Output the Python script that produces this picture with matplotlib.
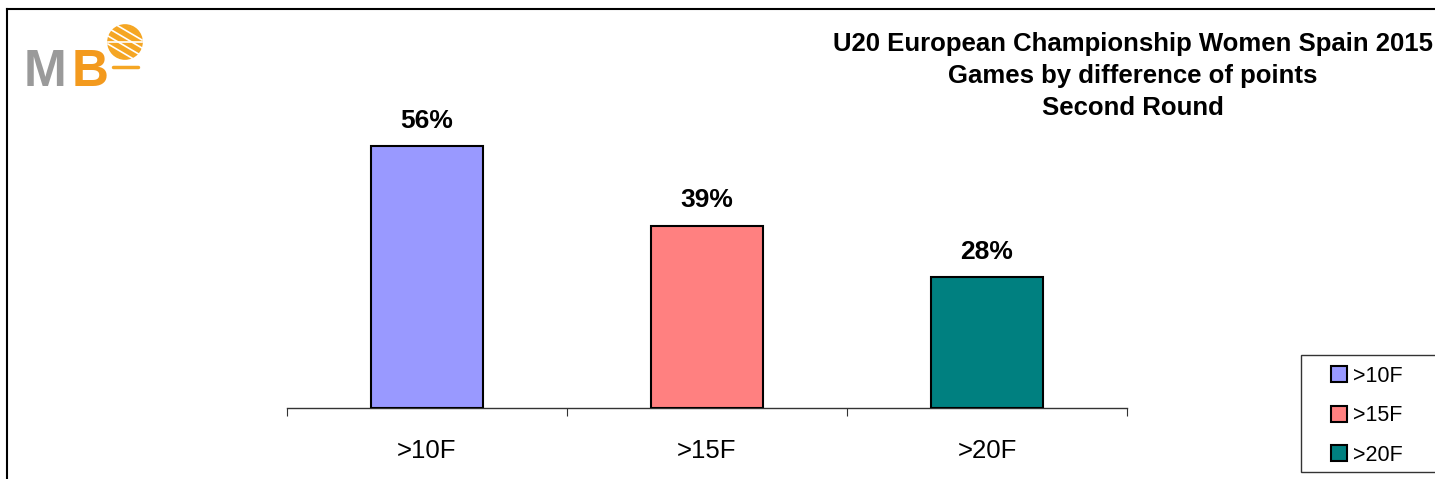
import matplotlib
matplotlib.use("Agg")
import matplotlib.pyplot as plt
from matplotlib.lines import Line2D
from matplotlib.patches import Circle, Rectangle
import numpy as np

categories = ['>10F', '>15F', '>20F']
values = [56, 39, 28]
value_labels = ['56%', '39%', '28%']
bar_colors = ['#9999FF', '#FF8080', '#008080']
title_lines = ['U20 European Championship Women Spain 2015',
               'Games by difference of points',
               'Second Round']

W, H = 1435, 479
plt.rcParams['font.family'] = ['Liberation Sans', 'DejaVu Sans']
fig = plt.figure(figsize=(W / 100, H / 100), dpi=100)
fig.patch.set_facecolor('white')

def px(x0, y0, x1, y1):
    return [x0 / W, 1 - y1 / H, (x1 - x0) / W, (y1 - y0) / H]

# plot axes: baseline y=408, x 287..1127, top at y=100
ax = fig.add_axes(px(287, 100, 1127, 408))
x = np.arange(len(categories))
ax.bar(x, values, width=0.4, color=bar_colors, edgecolor='black', linewidth=1.5, zorder=3)
ax.set_xlim(-0.5, len(categories) - 0.5)
ax.set_ylim(0, 308 / (262 / 56))
for xi, v, lab in zip(x, values, value_labels):
    ax.annotate(lab, (xi, v), xytext=(0, 13), textcoords='offset points',
                ha='center', va='baseline', fontsize=19, fontweight='bold')
for s in ['left', 'right', 'top']:
    ax.spines[s].set_visible(False)
ax.spines['bottom'].set_color('#333333')
ax.spines['bottom'].set_linewidth(1.0)
ax.set_yticks([])
ax.set_xticks(np.arange(-0.5, len(categories), 1.0))
ax.set_xticklabels([])
ax.tick_params(axis='x', which='major', length=6, direction='out', color='#333333')
ax.set_xticks(x, minor=True)
ax.set_xticklabels(categories, minor=True, fontsize=18.5)
ax.tick_params(axis='x', which='minor', length=0, pad=22.5)

# title
tx = 1133 / W
for i, t in enumerate(title_lines):
    fig.text(tx, 1 - (44 + 32 * i) / H, t, ha='center', va='center',
             fontsize=18.5, fontweight='bold')

# legend (frame drawn separately, it runs past the right edge)
fig.add_artist(Rectangle((1301 / W, 1 - 472 / H), 150 / W, 117 / H,
                         transform=fig.transFigure, facecolor='white',
                         edgecolor='#333333', linewidth=1.0))
handles = [Line2D([], [], linestyle='none', marker='s', markersize=11,
                  markerfacecolor=c, markeredgecolor='black', markeredgewidth=1.5)
           for c in bar_colors]
leg = fig.legend(handles, categories, loc='upper left',
                 bbox_to_anchor=(1327 / W, 1 - 366 / H), fontsize=15.5,
                 frameon=False, handlelength=1.1, handletextpad=0.1,
                 labelspacing=0.85, borderpad=0, borderaxespad=0)

# frame lines (top and left)
fig.add_artist(Line2D([7 / W, 1], [1 - 9 / H, 1 - 9 / H], color='black', linewidth=1.5))
fig.add_artist(Line2D([7 / W, 7 / W], [1 - 9 / H, 0], color='black', linewidth=1.5))

# logo
fig.text(24 / W, 1 - 86 / H, 'M', color='#9a9a9a', fontsize=37, fontweight='bold', va='baseline')
fig.text(72 / W, 1 - 86 / H, 'B', color='#F39A1E', fontsize=37, fontweight='bold', va='baseline')
lax = fig.add_axes(px(100, 20, 150, 72))
lax.set_xlim(0, 50)
lax.set_ylim(52, 0)
lax.set_aspect('equal')
lax.axis('off')
lax.add_patch(Circle((25, 22), 18, facecolor='#F5A623', edgecolor='none'))
t = np.linspace(0, 1, 30)
for off in [-12, -4, 4, 12]:
    xs = 8 + 34 * t
    ys = 22 + off + (t - 0.5) * 20
    lax.plot(xs, ys, color='white', lw=1.2)
lax.plot([25 - 17, 25 + 17], [22, 22], color='white', lw=1.2)
lax.add_patch(Circle((25, 22), 18, facecolor='none', edgecolor='white', lw=2.5))
lax.add_patch(Circle((25, 22), 16.8, facecolor='none', edgecolor='#F5A623', lw=1.5))
lax.plot([13, 38], [47, 47], color='#F5A623', lw=2.5, solid_capstyle='round')

fig.savefig('out.png', dpi=100, facecolor='white')
